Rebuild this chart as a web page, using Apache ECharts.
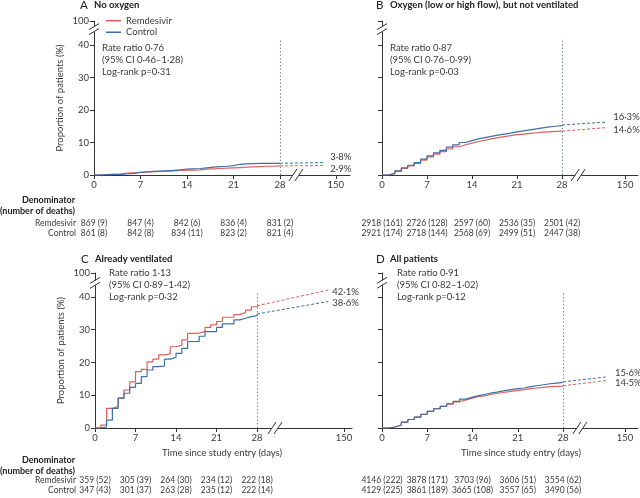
<!DOCTYPE html>
<html><head><meta charset="utf-8">
<script src="https://cdn.jsdelivr.net/npm/echarts@6/dist/echarts.min.js"></script>
<style>html,body{margin:0;padding:0;background:#fff}#c{width:640px;height:498px}</style>
</head><body><div id="c"></div>
<script>
// ---------------- DATA ----------------
const days = [0,1,2,3,4,5,6,7,8,9,10,11,12,13,14,15,16,17,18,19,20,21,22,23,24,25,26,27,28];
const tickDays = [0,7,14,21,28];
const farTickLabel = '150';
const yTickValues = [0,10,20,30,40];
const yTopLabel = '100';

// cumulative proportion of deaths (%) by day
const remA = [0,0.1,0.2,0.3,0.6,0.7,0.8,0.9,1.0,1.1,1.2,1.3,1.4,1.5,1.5,1.6,1.8,1.9,2.0,2.1,2.2,2.3,2.4,2.5,2.6,2.7,2.7,2.8,2.8];
const ctlA = [0,0.1,0.2,0.2,0.3,0.5,0.8,1.0,1.1,1.2,1.3,1.4,1.6,1.8,1.9,2.0,2.2,2.4,2.6,2.7,2.9,3.3,3.4,3.5,3.6,3.6,3.6,3.6,3.6];
const remB = [0,0.4,1.1,2.0,2.8,3.6,4.6,5.6,6.4,7.2,8.0,8.7,9.3,9.8,10.3,10.7,11.1,11.5,11.8,12.1,12.4,12.6,12.8,13.0,13.2,13.3,13.4,13.5,13.5];
const ctlB = [0,0.5,1.3,2.2,3.0,3.8,4.9,5.9,6.8,7.6,8.6,9.3,10.0,10.6,11.1,11.5,11.9,12.3,12.6,12.9,13.3,13.6,13.9,14.2,14.5,14.8,15.0,15.2,15.4];
const remC = [0,0.9,6.0,6.5,9.1,11.6,14.1,17.2,17.9,20.2,21.0,22.3,22.6,24.8,25.3,26.9,28.9,28.9,29.5,30.7,31.5,32.5,33.8,33.8,34.6,35.2,36.0,37.0,37.3];
const ctlC = [0,0.3,2.4,6.0,9.1,10.6,12.4,13.6,15.7,17.7,18.7,18.9,21.0,21.6,22.8,24.3,26.4,26.4,28.0,29.4,29.4,30.7,31.8,31.8,33.0,33.5,34.0,34.3,34.8];
const remD = [0,0.3,0.9,1.8,2.6,3.3,4.2,5.1,5.9,6.6,7.3,8.0,8.6,9.1,9.6,9.9,10.3,10.6,10.9,11.2,11.5,11.7,12.0,12.2,12.4,12.6,12.7,12.8,12.9];
const ctlD = [0,0.3,0.9,1.8,2.6,3.3,4.2,5.1,5.9,6.6,7.4,8.1,8.8,9.4,9.9,10.3,10.7,11.0,11.4,11.7,12.0,12.2,12.6,12.9,13.2,13.5,13.7,13.9,14.1];

// extrapolated end values (%) at 150 days
const extRem = [2.9,14.6,42.1,14.5];
const extCtl = [3.8,16.3,38.6,15.6];

const panelLetters = ['A','B','C','D'];
const panelTitles = ['No oxygen','Oxygen (low or high flow), but not ventilated','Already ventilated','All patients'];
const statTexts = [
  ['Rate ratio 0·76','(95% CI 0·46–1·28)','Log-rank p=0·31'],
  ['Rate ratio 0·87','(95% CI 0·76–0·99)','Log-rank p=0·03'],
  ['Rate ratio 1·13','(95% CI 0·89–1·42)','Log-rank p=0·32'],
  ['Rate ratio 0·91','(95% CI 0·82–1·02)','Log-rank p=0·12']
];
const denomRem = [
  ['869 (9)','847 (4)','842 (6)','836 (4)','831 (2)'],
  ['2918 (161)','2726 (128)','2597 (60)','2536 (35)','2501 (42)'],
  ['359 (52)','305 (39)','264 (30)','234 (12)','222 (18)'],
  ['4146 (222)','3878 (171)','3703 (96)','3606 (51)','3554 (62)']
];
const denomCtl = [
  ['861 (8)','842 (8)','834 (11)','823 (2)','821 (4)'],
  ['2921 (174)','2718 (144)','2568 (69)','2499 (51)','2447 (38)'],
  ['347 (43)','301 (37)','263 (28)','235 (12)','222 (14)'],
  ['4129 (225)','3861 (189)','3665 (108)','3557 (65)','3490 (56)']
];
const remSeries = [remA, remB, remC, remD];
const ctlSeries = [ctlA, ctlB, ctlC, ctlD];
const seriesNames = ['Remdesivir','Control'];
const yAxisTitle = 'Proportion of patients (%)';
const xAxisTitle = 'Time since study entry (days)';
const tableHead = ['Denominator','(number of deaths)'];

// ---------------- LAYOUT / STYLE ----------------
const FONT = 'Lato, "Liberation Sans", sans-serif';
const RED = '#e0605a', BLUE = '#3d6fa8', TXT = '#3a3a3a', AX = '#333';
const P = [
  {left:94, top:21, width:256, height:154, xMax:38.54, x150:36.4, extX:34.5, xBrk:30.4, yMax:47.4, yBrk:44.9, vTop:41.8, showY:true, tabOff:40, lblDist:7, offR:3, offC:-6, xName:null},
  {left:382, top:21, width:256, height:154, xMax:39.8, x150:37.8, extX:35.0, xBrk:30.5, yMax:47.4, yBrk:44.9, vTop:42.1, showY:false, tabOff:40, lblDist:6, offR:2, offC:-5, xName:null},
  {left:95, top:273, width:257, height:155, xMax:44.4, x150:43.0, extX:40.3, xBrk:31.1, yMax:47.3, yBrk:44.3, vTop:41.6, showY:true, tabOff:44, lblDist:4, offR:2, offC:1, xName:[222,453]},
  {left:382, top:273, width:256, height:155, xMax:39.6, x150:37.6, extX:34.8, xBrk:30.6, yMax:47.3, yBrk:44.3, vTop:41.6, showY:false, tabOff:44, lblDist:8, offR:2.5, offC:-4, xName:[521,453]}
];
const letterPos = [[80,5],[376,5],[81,259],[376,259]];
const titlePos = [[94,5],[390,5],[95,259],[390,259]];
const statPos = [[102,48],[390,48],[109,273],[397,273]];

const fmtPct = v => v.toFixed(1).replace('.', '·') + '%';

const grids = [], xAxes = [], yAxes = [], series = [];
P.forEach((p, i) => {
  grids.push({left:p.left, top:p.top, width:p.width, height:p.height, containLabel:false});
  const x150 = p.x150;
  xAxes.push({
    type:'value', gridIndex:i, min:0, max:p.xMax,
    axisLine:{lineStyle:{color:AX, width:1}},
    axisTick:{show:true, length:4, customValues: tickDays.concat([x150]), lineStyle:{color:AX}},
    axisLabel:{customValues: tickDays.concat([x150]), showMinLabel:true, showMaxLabel:true, hideOverlap:false,
      formatter: v => (Math.abs(v - x150) < 1e-6 ? farTickLabel : String(v)),
      fontFamily:FONT, fontSize:9.5, color:TXT, margin:5},
    splitLine:{show:false}
  });
  // table axis (denominators) aligned with ticks
  xAxes.push({
    type:'value', gridIndex:i, min:0, max:p.xMax, position:'bottom', offset:p.tabOff,
    axisLine:{show:false}, axisTick:{show:false}, splitLine:{show:false},
    axisLabel:{customValues: tickDays, showMinLabel:true, showMaxLabel:true, hideOverlap:false, margin:3,
      fontFamily:FONT, fontSize:8.5, color:TXT, lineHeight:10.5,
      formatter: v => { const k = tickDays.indexOf(v); return k < 0 ? '' : denomRem[i][k] + '\n' + denomCtl[i][k]; }}
  });
  const yMax = p.yMax;
  yAxes.push({
    type:'value', gridIndex:i, min:0, max:yMax,
    axisLine:{show:true, lineStyle:{color:AX, width:1}},
    axisTick:{show:true, length:4, customValues: yTickValues.concat([yMax]), lineStyle:{color:AX}},
    axisLabel:{show:p.showY, customValues: yTickValues.concat([yMax]), showMinLabel:true, showMaxLabel:true,
      formatter: v => (Math.abs(v - yMax) < 1e-6 ? yTopLabel : String(v)),
      fontFamily:FONT, fontSize:9.5, color:TXT, margin:5},
    splitLine:{show:false},
    name: p.showY ? yAxisTitle : '', nameLocation:'middle', nameGap:29, nameRotate:90,
    nameTextStyle:{fontFamily:FONT, fontSize:9.5, color:TXT}
  });
  const xi = i * 2;
  const rem = remSeries[i], ctl = ctlSeries[i];
  series.push({
    name:seriesNames[0], type:'line', xAxisIndex:xi, yAxisIndex:i, step:'end', showSymbol:false, symbol:'none',
    color:RED, lineStyle:{color:RED, width:1.2}, z:3, silent:true,
    data: days.map((d,k) => [d, rem[k]])
  });
  series.push({
    name:seriesNames[1], type:'line', xAxisIndex:xi, yAxisIndex:i, step:'end', showSymbol:false, symbol:'none',
    color:BLUE, lineStyle:{color:BLUE, width:1.2}, z:4, silent:true,
    data: days.map((d,k) => [d, ctl[k]])
  });
  const last = days.length - 1;
  const lblStyle = {fontFamily:FONT, fontSize:9.5, color:TXT};
  series.push({
    name:'rem-ext-'+i, type:'line', xAxisIndex:xi, yAxisIndex:i, symbol:'none', showSymbol:false, silent:true,
    color:RED, lineStyle:{color:RED, width:1, type:[3,2]}, z:3,
    data:[[days[last], rem[last]], [p.extX, extRem[i]]],
    endLabel:{show:true, distance:p.lblDist, offset:[0,p.offR], formatter: fmtPct(extRem[i]), ...lblStyle},
    markLine:{silent:true, symbol:'none', label:{show:false},
      lineStyle:{color:'#7d8ea3', type:[1.5,2], width:1},
      data:[[{coord:[days[last],0]},{coord:[days[last],p.vTop]}]]}
  });
  series.push({
    name:'ctl-ext-'+i, type:'line', xAxisIndex:xi, yAxisIndex:i, symbol:'none', showSymbol:false, silent:true,
    color:BLUE, lineStyle:{color:BLUE, width:1, type:[3,2]}, z:4,
    data:[[days[last], ctl[last]], [p.extX, extCtl[i]]],
    endLabel:{show:true, distance:p.lblDist, offset:[0,p.offC], formatter: fmtPct(extCtl[i]), ...lblStyle}
  });
  // axis break marks
  series.push({
    type:'custom', xAxisIndex:xi, yAxisIndex:i, silent:true, z:10, clip:false,
    data:[[p.xBrk,0,0],[0,p.yBrk,1]],
    renderItem:(params, api) => {
      const pt = api.coord([api.value(0), api.value(1)]);
      const x = pt[0], y = pt[1];
      const st = {stroke:AX, lineWidth:1, fill:null};
      if (api.value(2) === 0) {
        const d = 3;
        return {type:'group', children:[
          {type:'rect', shape:{x:x-d, y:y-2, width:2*d, height:4}, style:{fill:'#fff'}},
          {type:'line', shape:{x1:x-d-4, y1:y+6, x2:x-d+4, y2:y-6}, style:st},
          {type:'line', shape:{x1:x+d-4, y1:y+6, x2:x+d+4, y2:y-6}, style:st}
        ]};
      }
      const d = 2.5;
      return {type:'group', children:[
        {type:'rect', shape:{x:x-2, y:y-d, width:4, height:2*d}, style:{fill:'#fff'}},
        {type:'line', shape:{x1:x-5, y1:y-d+3, x2:x+5, y2:y-d-3}, style:st},
        {type:'line', shape:{x1:x-5, y1:y+d+3, x2:x+5, y2:y+d-3}, style:st}
      ]};
    }
  });
});

function txt(x, y, text, opts) {
  return {type:'text', x:x, y:y, silent:true, style:Object.assign({
    text:text, fontFamily:FONT, fontSize:9.5, fill:TXT,
    align:'left', textAlign:'left', verticalAlign:'middle', textVerticalAlign:'middle'
  }, opts || {})};
}
const graphics = [];
P.forEach((p, i) => {
  graphics.push(txt(letterPos[i][0], letterPos[i][1], panelLetters[i], {fontSize:11.5, fill:'#222'}));
  graphics.push(txt(titlePos[i][0], titlePos[i][1], panelTitles[i], {fontWeight:'bold', fontSize:9.5, fill:'#222'}));
  statTexts[i].forEach((s, k) => graphics.push(txt(statPos[i][0], statPos[i][1] + k*12, s, {})));
  if (p.xName) graphics.push(txt(p.xName[0], p.xName[1], xAxisTitle, {align:'center', textAlign:'center'}));
});
// table headers for left panels
[[200, 223], [460, 480]].forEach(([hy, ry]) => {
  graphics.push(txt(75, hy, tableHead[0], {fontWeight:'bold', fontSize:9, align:'right', textAlign:'right', fill:'#222'}));
  graphics.push(txt(75, hy+11.5, tableHead[1], {fontWeight:'bold', fontSize:9, align:'right', textAlign:'right', fill:'#222'}));
  graphics.push(txt(76, ry, seriesNames[0], {align:'right', textAlign:'right', fontSize:8.5}));
  graphics.push(txt(76, ry+10.5, seriesNames[1], {align:'right', textAlign:'right', fontSize:8.5}));
});

const chart = echarts.init(document.getElementById('c'), null, {renderer:'canvas'});
chart.setOption({
  animation:false,
  backgroundColor:'#fff',
  grid:grids, xAxis:xAxes, yAxis:yAxes, series:series,
  legend:{data:seriesNames, orient:'vertical', left:106, top:15, itemWidth:15, itemHeight:1.5, itemGap:0, icon:'rect', padding:0,
    selectedMode:false, textStyle:{fontFamily:FONT, fontSize:9.5, color:TXT, lineHeight:11.5}},
  graphic:{elements:graphics}
});
</script></body></html>
